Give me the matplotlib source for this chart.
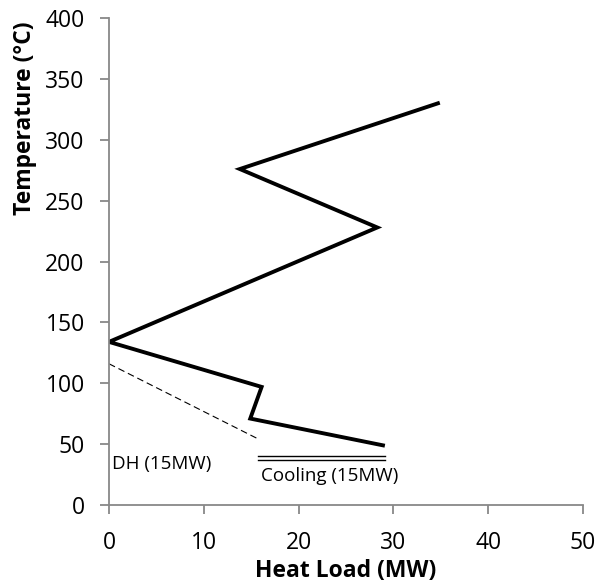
import matplotlib
matplotlib.use('Agg')
import matplotlib.pyplot as plt

plt.rcParams['font.family'] = ['Open Sans', 'DejaVu Sans']

# grand composite curve (heat load MW, temperature C)
gcc_load = [34.7, 13.8, 28.3, 0.0, 16.1, 14.9, 28.9]
gcc_temp = [330, 276, 228, 134, 97, 71, 49]

# district heating line
dh_load = [0.0, 15.8]
dh_temp = [116, 54]

# cooling utility (double line)
cool_load = [15.7, 29.1]
cool_temp_upper = 40
cool_temp_lower = 37

x_ticks = [0, 10, 20, 30, 40, 50]
y_ticks = [0, 50, 100, 150, 200, 250, 300, 350, 400]

fig = plt.figure(figsize=(5.97, 5.84), dpi=100)
ax = fig.add_axes([0.1826, 0.1353, 0.7939, 0.8337])

ax.plot(gcc_load, gcc_temp, color='black', linewidth=2.8, solid_joinstyle='miter')
ax.plot(dh_load, dh_temp, color='black', linewidth=0.8, linestyle=(0, (6, 3.5)))
ax.plot(cool_load, [cool_temp_upper] * 2, color='black', linewidth=1.0)
ax.plot(cool_load, [cool_temp_lower] * 2, color='black', linewidth=1.0)

ax.text(0.3, 34, 'DH (15MW)', fontsize=13.5, va='center', ha='left')
ax.text(16.0, 24, 'Cooling (15MW)', fontsize=13.5, va='center', ha='left')

ax.set_xlim(0, 50)
ax.set_ylim(0, 400)
ax.set_xticks(x_ticks)
ax.set_yticks(y_ticks)
for side in ['top', 'right']:
    ax.spines[side].set_visible(False)
for side in ['left', 'bottom']:
    ax.spines[side].set_color('#888888')
    ax.spines[side].set_linewidth(1.3)
ax.tick_params(axis='both', colors='#888888', labelcolor='black', labelsize=16.5,
               length=6.5, width=1.3, direction='out')
ax.tick_params(axis='x', pad=12)
ax.tick_params(axis='y', pad=11)

ax.set_xlabel('Heat Load (MW)', fontsize=16.5, fontweight='bold', labelpad=3)
# y label sits near the top of the axis
fig.text(25 / 597, 1 - 118 / 584, 'Temperature (°C)', fontsize=16.5, fontweight='bold',
         rotation=90, ha='center', va='center')

fig.savefig('out.png', dpi=100)
